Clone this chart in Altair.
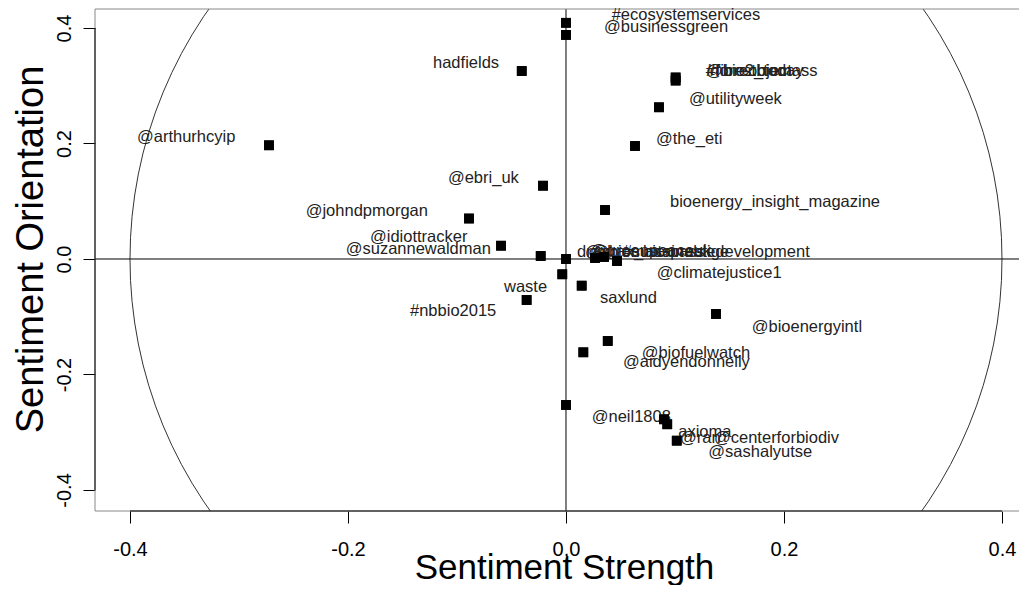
import altair as alt
import pandas as pd

# ---- data ----
pt_x = [0.0, 0.0, -0.0406, 0.1006, 0.1006, 0.0853, -0.2725, 0.0633, -0.0211, 0.0358,
        -0.089, -0.0596, -0.0232, 0.0, 0.0468, 0.0266, 0.0349, -0.0034, 0.0144, -0.0361,
        0.1376, 0.0383, 0.0159, 0.0, 0.0899, 0.0929, 0.1016]
pt_y = [0.409, 0.388, 0.3255, 0.3143, 0.309, 0.2627, 0.1969, 0.1957, 0.1269, 0.0848,
        0.0701, 0.023, 0.0052, 0.0, -0.0035, 0.0017, 0.0035, -0.0265, -0.0462, -0.071,
        -0.0952, -0.142, -0.1616, -0.2528, -0.2776, -0.2862, -0.3146]

lab_text = ["#ecosystemservices", "@businessgreen", "hadfields", "#forestbiomass",
            "@bio2_today", "#fibreobject", "@utilityweek", "@arthurhcyip", "@the_eti",
            "@ebri_uk", "bioenergy_insight_magazine", "@johndpmorgan", "@idiottracker",
            "@suzannewaldman", "drax", "@drax_biomass", "@greenpeaceuk", "@biomassprestige",
            "#sustainabledevelopment", "@climatejustice1", "waste", "saxlund", "#nbbio2015",
            "@bioenergyintl", "@biofuelwatch", "@aidyendonnelly", "@neil1808", "axioma",
            "@ran", "@centerforbiodiv", "@sashalyutse"]
lab_x = [0.0419, 0.0349, -0.122, 0.1282, 0.1285, 0.129, 0.1128, -0.3936, 0.0826,
         -0.1083, 0.0954, -0.2388, -0.1798, -0.2021, 0.0101, 0.0175, 0.0220, 0.0240,
         0.0520, 0.0832, -0.0569, 0.0312, -0.1431, 0.1704, 0.0694, 0.0523, 0.0236, 0.103,
         0.1046, 0.1358, 0.1306]
lab_y = [0.4225, 0.4023, 0.3389, 0.3255, 0.3255, 0.3255, 0.2771, 0.2107, 0.2078,
         0.1403, 0.0987, 0.0836, 0.0386, 0.0173, 0.0126, 0.0126, 0.0130, 0.0126,
         0.0126, -0.0237, -0.048, -0.0675, -0.0895, -0.1172, -0.1633, -0.1778, -0.2741,
         -0.299, -0.3094, -0.3094, -0.3337]

tick_vals = [-0.4, -0.2, 0.0, 0.2, 0.4]
x_dom = [-0.4321, 0.4156]
y_dom = [-0.4364, 0.4329]

W, H = 924, 502
px_per_unit = W / (x_dom[1] - x_dom[0])
circle_r = 0.4 * px_per_unit

pts = pd.DataFrame({"x": pt_x, "y": pt_y})
labs = pd.DataFrame({"label": lab_text, "x": lab_x, "y": lab_y})
center = pd.DataFrame({"x": [0.0], "y": [0.0]})

FONT = "Liberation Sans"
lab_expr = "datum.value == 0 ? '0.0' : (datum.value < 0 ? '-' + format(-datum.value, '.1f') : format(datum.value, '.1f'))"

xs = alt.Scale(domain=x_dom, nice=False, zero=False)
ys = alt.Scale(domain=y_dom, nice=False, zero=False)

x_axis = alt.Axis(values=tick_vals, labelExpr=lab_expr, title="Sentiment Strength",
                  titleFontSize=35, titleFont=FONT, titleFontWeight="normal",
                  titleColor="black", titleBaseline="alphabetic", titleY=67, titleX=469,
                  labelFontSize=20, labelFont=FONT, labelColor="black", labelPadding=16,
                  tickSize=12, tickColor="black", domain=False, grid=False)
y_axis = alt.Axis(values=tick_vals, labelExpr=lab_expr, title="Sentiment Orientation",
                  titleFontSize=38, titleFont=FONT, titleFontWeight="normal",
                  titleColor="black", titleBaseline="alphabetic", titleX=-53, titleY=240,
                  titleAngle=270,
                  labelFontSize=20, labelFont=FONT, labelColor="black", labelAngle=270,
                  labelAlign="center", labelBaseline="bottom", labelPadding=9,
                  tickSize=12, tickColor="black", domain=False, grid=False)

base_pts = alt.Chart(pts).mark_square(size=95, color="black", opacity=1, filled=True).encode(
    x=alt.X("x:Q", scale=xs, axis=x_axis),
    y=alt.Y("y:Q", scale=ys, axis=y_axis),
)

labels = alt.Chart(labs).mark_text(align="left", baseline="middle", fontSize=16.5,
                                   font=FONT, color="#222").encode(
    x="x:Q", y="y:Q", text="label:N")

circle = alt.Chart(center).mark_arc(theta=0, theta2=6.2832, radius=circle_r, filled=False,
                                    stroke="#333", strokeWidth=1, clip=True).encode(
    x="x:Q", y="y:Q")

vline = alt.Chart(center).mark_rule(color="black", strokeWidth=1).encode(x="x:Q")
hline = alt.Chart(center).mark_rule(color="black", strokeWidth=1).encode(y="y:Q")

frame_top = alt.Chart(center).mark_rule(color="#888", strokeWidth=1).encode(
    x=alt.value(0), x2=alt.value(W + 5), y=alt.value(0))
frame_bot = alt.Chart(center).mark_rule(color="#888", strokeWidth=1).encode(
    x=alt.value(0), x2=alt.value(W + 5), y=alt.value(H))
frame_left = alt.Chart(center).mark_rule(color="#888", strokeWidth=1).encode(
    x=alt.value(0), y=alt.value(0), y2=alt.value(H))

axis_lines = pd.DataFrame({"a": [-0.4], "b": [0.4]})
xdomain = alt.Chart(axis_lines).mark_rule(color="black", strokeWidth=1).encode(
    x="a:Q", x2="b:Q", y=alt.value(H))
ydomain = alt.Chart(axis_lines).mark_rule(color="black", strokeWidth=1).encode(
    y="a:Q", y2="b:Q", x=alt.value(0))

chart = alt.layer(
    base_pts, circle, vline, hline, frame_top, frame_bot, frame_left, xdomain, ydomain,
    labels, base_pts
).properties(
    width=W, height=H,
    autosize=alt.AutoSizeParams(type="none"),
    padding={"left": 87, "top": 1, "right": 0, "bottom": 74},
    background="white",
).configure_view(stroke=None)

chart.save("out.html", embed_options={"renderer": "svg", "actions": False})
